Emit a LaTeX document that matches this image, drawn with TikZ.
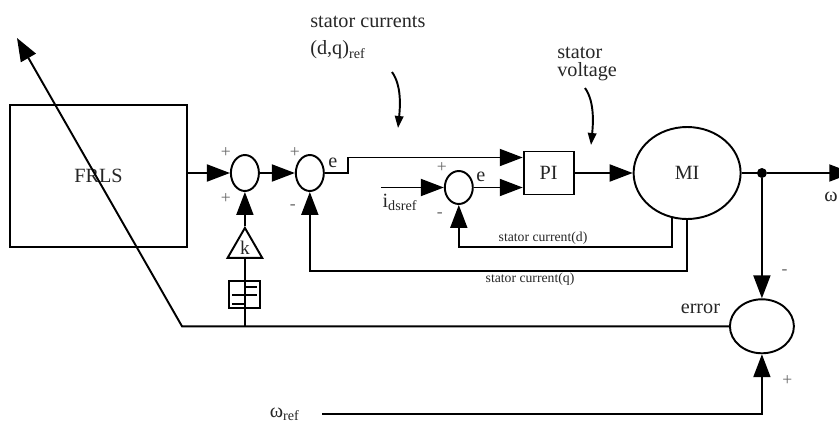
\documentclass[tikz,border=0pt]{standalone}
\usepackage{fontspec}
\setmainfont{Liberation Serif}
\usetikzlibrary{positioning,shapes.geometric,arrows.meta}

\begin{document}
\begin{tikzpicture}[
  x=0.02cm, y=-0.02cm,
  blk/.style={draw, line width=1.1pt, font=\fontsize{11.5}{13}\selectfont, text=black!85, inner sep=0pt},
  sum/.style={draw, ellipse, line width=1.1pt, minimum width=0.56cm, minimum height=0.72cm, inner sep=0pt},
  motor/.style={draw, ellipse, line width=1.1pt, minimum width=2.14cm, minimum height=1.84cm, inner sep=0pt, font=\fontsize{11.5}{13}\selectfont, text=black!85},
  errc/.style={draw, ellipse, line width=1.1pt, minimum width=1.28cm, minimum height=1.08cm, inner sep=0pt},
  gain/.style={draw, regular polygon, regular polygon sides=3, minimum size=0.8cm, inner sep=0pt, line width=1.1pt, font=\fontsize{11}{12}\selectfont, text=black!85},
  integ/.style={draw, minimum width=0.62cm, minimum height=0.54cm, inner sep=0pt, line width=1.1pt},
  dot/.style={circle, fill=black, minimum size=0.2cm, inner sep=0pt},
  wire/.style={line width=1.1pt},
  arr/.style={wire, -{Triangle[length=0.46cm, width=0.34cm]}},
  ptr/.style={wire, -{Triangle[length=0.24cm, width=0.17cm]}},
  lbl/.style={font=\fontsize{11.5}{13}\selectfont, text=black!85, inner sep=0pt},
  sml/.style={font=\fontsize{7.8}{9}\selectfont, text=black!85, inner sep=0pt},
  sgn/.style={font=\fontsize{10}{11}\selectfont, text=black!60, inner sep=0pt}
]
\useasboundingbox (0,0) rectangle (839,423);

% ── Forward path ─────────────────────────────────────────────
\node[blk, minimum width=3.54cm, minimum height=2.84cm] (frls) at (98.5,176) {FRLS};
\node[sum, right=0.84cm of frls, yshift=0.06cm] (s1) {};
\node[sum, right=0.7cm of s1]                   (s2) {};
\node[blk, minimum width=1cm, minimum height=0.86cm, right=3.96cm of s2] (pi) {PI};
\node[motor, right=1.16cm of pi]                (mi) {MI};
\node[dot, right=0.3cm of mi]                   (jn) {};
\node[sum, left=0.98cm of pi, yshift=-0.29cm, minimum height=0.66cm] (s3) {};

% ── Speed error and compensator ──────────────────────────────
\node[errc, below=2.4cm of jn] (err) {};
\node[gain, below=0.68cm of s1] (k)   {k};
\node[integ, below=0.43cm of k] (ig)  {};

% ── Free ends ────────────────────────────────────────────────
\coordinate[left=1.26cm of s3] (ids);
\coordinate[right=1.7cm of jn] (out);
\coordinate (eb)   at (182,322);
\coordinate (tip)  at (17,38);
\coordinate (wref) at (322,414);
\coordinate (dlev) at (0,247);
\coordinate (qlev) at (0,271);

% ── Forward arrows ───────────────────────────────────────────
\draw[arr] (s1.west -| frls.east) -- (s1.west);
\draw[arr] (s1) -- (s2);
\draw[arr] (s2.east) -- ++(23,0) |- ([yshift=0.31cm]pi.west);
\draw[arr] (ids) -- (s3);
\draw[arr] (s3.east) -- (s3.east -| pi.west);
\draw[arr] (pi) -- (mi);
\draw[wire] (mi) -- (jn);
\draw[arr] (jn) -- (out);

% ── Feedback arrows ──────────────────────────────────────────
\draw[arr] (mi.251) |- (s3 |- dlev) -- (s3.south);
\draw[arr] (mi.south) |- (s2 |- qlev) -- (s2.south);
\draw[arr] (jn) -- (err);
\draw[arr] (wref) -| (err.south);
\draw[arr] (err.west) -- (eb |- err.west) -- (tip);
\draw[wire] (ig.south) -- (ig.south |- err.west);
\draw[wire] (ig.north) -- (k.south);
\draw[arr] (k.north) -- (s1.south);

% ── Integrator symbol ────────────────────────────────────────
\draw[wire] (ig.north) -- (ig.south);
\draw[wire] ([shift={(0,-7.5)}]ig.center) -- ++(12,0);
\draw[wire] ([shift={(-13,0.5)}]ig.center) -- ++(25,0);
\draw[wire] ([shift={(-13,9.5)}]ig.center) -- ++(13,0);

% ── Signs ────────────────────────────────────────────────────
\node[sgn] at ([shift={(-19,-20)}]s1.center) {+};
\node[sgn] at ([shift={(-19,26)}]s1.center)  {+};
\node[sgn] at ([shift={(-15,-20)}]s2.center) {+};
\node[sgn] at ([shift={(-17,34)}]s2.center)  {-};
\node[sgn] at ([shift={(-17,-20)}]s3.center) {+};
\node[sgn] at ([shift={(-19,28)}]s3.center)  {-};
\node[sgn] at ([shift={(22.5,-54.5)}]err.center) {-};
\node[sgn] at ([shift={(25.5,54.5)}]err.center)  {+};

% ── Labels ───────────────────────────────────────────────────
\node[lbl] (e2) at ([shift={(23,-10)}]s2.center) {e};
\node[lbl] (e3) at ([shift={(22,-11)}]s3.center) {e};
\node[lbl] (errl) at ([shift={(-61.5,-17.5)}]err.center) {error};
\node[lbl] (idl) at (400,202) {i\textsubscript{dsref}};
\node[lbl, left=0.44cm of wref] (wl) {ω\textsubscript{ref}};
\node[lbl] (wo) at (831,197) {ω};
\node[sml] (scd) at (543,238) {stator current(d)};
\node[sml] (scq) at (530,279) {stator current(q)};
\node[lbl, anchor=west] (sc1) at (310,22) {stator currents};
\node[lbl, anchor=west] (sc2) at (310,50) {(d,q)\textsubscript{ref}};
\node[lbl, anchor=west] (sv1) at (557,53) {stator};
\node[lbl, anchor=west] (sv2) at (557,72) {voltage};

% ── Pointers ─────────────────────────────────────────────────
\coordinate (p1a) at (392,72);
\coordinate (p1b) at (398,128);
\coordinate (p2a) at (585,88);
\coordinate (p2b) at (591,145);
\draw[ptr] (p1a) .. controls (402,86) and (400,108) .. (p1b);
\draw[ptr] (p2a) .. controls (595,102) and (593,125) .. (p2b);

\end{tikzpicture}
\end{document}
